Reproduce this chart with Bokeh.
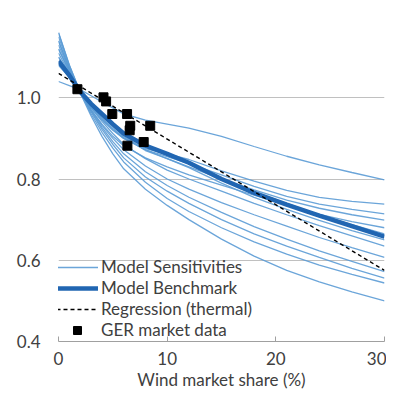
from bokeh.plotting import figure
from bokeh.models import (ColumnDataSource, Legend, LegendItem, FixedTicker, Range1d,
                          CustomJSTickFormatter)
from bokeh.embed import file_html
from bokeh.resources import INLINE

# ---------------- data ----------------
x_share = [0, 1, 2, 3, 4, 5, 6, 8, 10, 12, 15, 18, 21, 24, 27, 30]

benchmark = [1.09, 1.055, 1.015, 0.985, 0.96, 0.935, 0.912, 0.882, 0.862, 0.84, 0.80, 0.766, 0.737, 0.71, 0.684, 0.658]

sens_01 = [1.04, 1.03, 1.02, 1.005, 0.99, 0.975, 0.96, 0.945, 0.935, 0.925, 0.905, 0.88, 0.856, 0.835, 0.816, 0.798]
sens_02 = [1.12, 1.065, 1.015, 0.975, 0.945, 0.92, 0.90, 0.875, 0.862, 0.848, 0.82, 0.795, 0.772, 0.755, 0.745, 0.738]
sens_03 = [1.11, 1.06, 1.015, 0.978, 0.948, 0.922, 0.90, 0.872, 0.855, 0.838, 0.81, 0.782, 0.757, 0.738, 0.725, 0.714]
sens_04 = [1.10, 1.058, 1.015, 0.98, 0.95, 0.925, 0.902, 0.87, 0.85, 0.83, 0.80, 0.773, 0.748, 0.728, 0.712, 0.699]
sens_05 = [1.14, 1.07, 1.015, 0.97, 0.935, 0.905, 0.882, 0.852, 0.83, 0.81, 0.785, 0.76, 0.735, 0.713, 0.695, 0.68]
sens_06 = [1.08, 1.05, 1.016, 0.987, 0.962, 0.938, 0.915, 0.885, 0.862, 0.84, 0.802, 0.768, 0.74, 0.712, 0.688, 0.665]
sens_07 = [1.10, 1.058, 1.015, 0.982, 0.955, 0.93, 0.905, 0.872, 0.85, 0.828, 0.79, 0.755, 0.725, 0.698, 0.673, 0.65]
sens_08 = [1.12, 1.065, 1.015, 0.975, 0.942, 0.912, 0.885, 0.85, 0.822, 0.80, 0.77, 0.74, 0.712, 0.685, 0.66, 0.635]
sens_09 = [1.13, 1.068, 1.015, 0.97, 0.932, 0.90, 0.872, 0.832, 0.80, 0.775, 0.742, 0.712, 0.684, 0.656, 0.631, 0.607]
sens_10 = [1.14, 1.072, 1.015, 0.967, 0.927, 0.892, 0.862, 0.818, 0.784, 0.755, 0.718, 0.683, 0.652, 0.623, 0.597, 0.572]
sens_11 = [1.15, 1.075, 1.015, 0.965, 0.922, 0.885, 0.852, 0.805, 0.77, 0.74, 0.70, 0.665, 0.635, 0.607, 0.58, 0.556]
sens_12 = [1.16, 1.08, 1.015, 0.96, 0.915, 0.876, 0.842, 0.792, 0.752, 0.72, 0.68, 0.645, 0.615, 0.588, 0.565, 0.544]
sens_13 = [1.16, 1.08, 1.012, 0.955, 0.905, 0.862, 0.825, 0.775, 0.735, 0.70, 0.652, 0.61, 0.575, 0.547, 0.522, 0.50]

regression_x = [0, 30]
regression_y = [1.06, 0.575]

market_x = [1.74, 4.14, 4.38, 4.95, 6.31, 6.60, 6.55, 8.44, 6.34, 7.84]
market_y = [1.021, 1.001, 0.991, 0.960, 0.960, 0.931, 0.920, 0.931, 0.882, 0.891]

x_ticks = [0, 10, 20, 30]
y_ticks = [0.4, 0.6, 0.8, 1.0]

sensitivities = [sens_01, sens_02, sens_03, sens_04, sens_05, sens_06, sens_07,
                 sens_08, sens_09, sens_10, sens_11, sens_12, sens_13]

# ---------------- figure ----------------
FONT = "Lato"
TXT = "#404040"

p = figure(width=386, height=392, output_backend="svg", toolbar_location=None,
           x_range=Range1d(0, 30), y_range=Range1d(0.4, 1.2),
           min_border_left=58, min_border_right=2, min_border_top=16, min_border_bottom=48)
p.outline_line_color = None
p.background_fill_color = "white"

sens_src = ColumnDataSource(dict(xs=[x_share] * len(sensitivities), ys=sensitivities))
r_sens = p.multi_line("xs", "ys", source=sens_src, line_color="#5b9bd5", line_alpha=0.9, line_width=1.3)
r_bench = p.line(x_share, benchmark, line_color="#2166b2", line_width=4.5)
r_reg = p.line(regression_x, regression_y, line_color="black", line_width=1.4, line_dash="4 3")
r_pts = p.scatter(market_x, market_y, marker="square", size=9, fill_color="black", line_color="black")

# axes
p.xaxis.ticker = FixedTicker(ticks=x_ticks)
p.yaxis.ticker = FixedTicker(ticks=y_ticks)
p.yaxis.formatter = CustomJSTickFormatter(code="return tick.toFixed(1);")
p.xaxis.axis_label = "Wind market share (%)"
for ax in (p.xaxis, p.yaxis):
    ax.major_label_text_font = FONT
    ax.major_label_text_font_size = "17px"
    ax.major_label_text_color = TXT
    ax.minor_tick_line_color = None
p.xaxis.axis_label_text_font = FONT
p.xaxis.axis_label_text_font_size = "17px"
p.xaxis.axis_label_text_font_style = "normal"
p.xaxis.axis_label_text_color = TXT
p.xaxis.axis_label_standoff = 1
p.xaxis.axis_line_color = "#a0a0a0"
p.xaxis.major_tick_line_color = "#a0a0a0"
p.xaxis.major_tick_in = 5
p.xaxis.major_tick_out = 0
p.xaxis.major_label_standoff = 10
p.yaxis.axis_line_color = None
p.yaxis.major_tick_line_color = None
p.yaxis.major_tick_in = 0
p.yaxis.major_tick_out = 0
p.yaxis.major_label_standoff = 18

p.xgrid.grid_line_color = None
p.ygrid.ticker = FixedTicker(ticks=[0.6, 0.8, 1.0])
p.ygrid.grid_line_color = "#c0c0c0"
p.ygrid.grid_line_width = 1

legend = Legend(items=[
    LegendItem(label="Model Sensitivities", renderers=[r_sens]),
    LegendItem(label="Model Benchmark", renderers=[r_bench]),
    LegendItem(label="Regression (thermal)", renderers=[r_reg]),
    LegendItem(label="GER market data", renderers=[r_pts]),
], location=(-2, 1))
legend.label_text_font = FONT
legend.label_text_font_size = "17px"
legend.label_text_color = TXT
legend.glyph_width = 42
legend.glyph_height = 20
legend.label_height = 20
legend.label_standoff = 3
legend.spacing = 0
legend.padding = 0
legend.margin = 0
legend.border_line_color = None
legend.background_fill_alpha = 0
p.add_layout(legend, "center")

open("out.html", "w").write(file_html(p, INLINE))
